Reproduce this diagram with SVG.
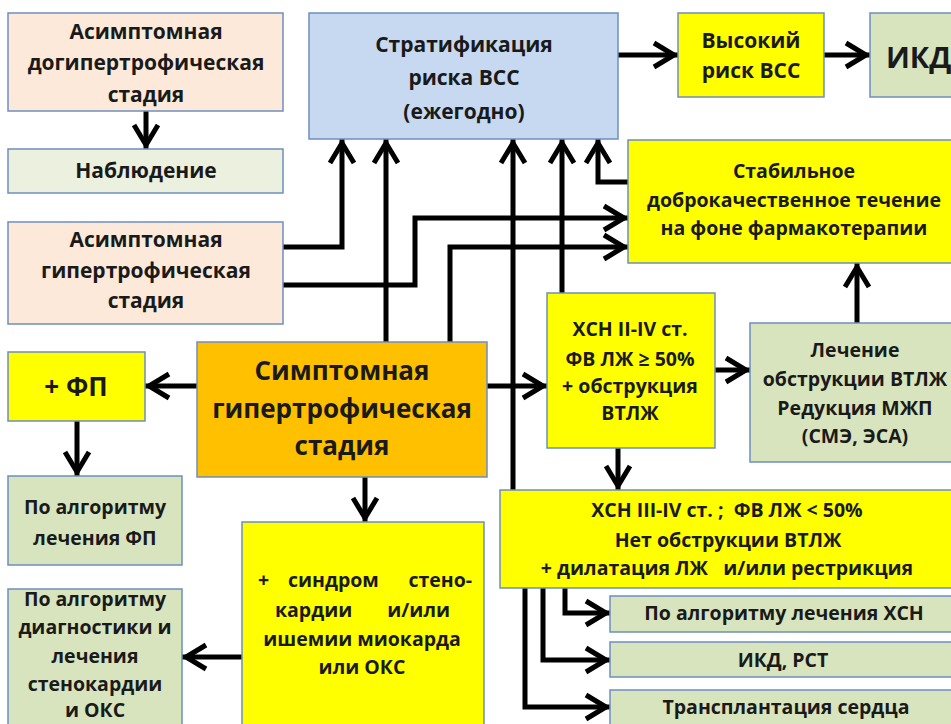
<svg xmlns="http://www.w3.org/2000/svg" width="951" height="724" viewBox="0 0 951 724">
<style>
.b{stroke:#6d8ebf;stroke-width:1.5}
.peach{fill:#fde9d9}.lg{fill:#ebf1de}.g{fill:#d7e4bd}.bl{fill:#c6d9f1}.y{fill:#ffff00}.o{fill:#ffc000}
text{font-family:"Open Sans","Liberation Sans",sans-serif;font-weight:bold;fill:#1a1a1a;text-anchor:middle;font-size:19.5px}
.l{font-size:21px}
.big{font-size:26px}
.s{text-anchor:start}.e{text-anchor:end}
.c{fill:none;stroke:#000;stroke-width:5;stroke-linejoin:miter}
</style>
<defs>
<marker id="ah" viewBox="-24 -16 30 32" markerWidth="30" markerHeight="32" refX="4" refY="0" orient="auto" markerUnits="userSpaceOnUse">
<path d="M-20,-12 L0,0 L-20,12" fill="none" stroke="#000" stroke-width="5"/>
</marker>
</defs>
<rect width="951" height="724" fill="#fff"/>

<g id="connectors">
<path class="c" d="M146,111 V149" marker-end="url(#ah)"/>
<path class="c" d="M618,55 H678" marker-end="url(#ah)"/>
<path class="c" d="M824,55 H870" marker-end="url(#ah)"/>
<path class="c" d="M283,247 H342 V139" marker-end="url(#ah)"/>
<path class="c" d="M386,342 V139" marker-end="url(#ah)"/>
<path class="c" d="M513,490 V139" marker-end="url(#ah)"/>
<path class="c" d="M562,293 V139" marker-end="url(#ah)"/>
<path class="c" d="M628,182 H598 V139" marker-end="url(#ah)"/>
<path class="c" d="M283,285 H415 V218 H628" marker-end="url(#ah)"/>
<path class="c" d="M450,342 V247 H628" marker-end="url(#ah)"/>
<path class="c" d="M197,386 H145" marker-end="url(#ah)"/>
<path class="c" d="M77,421 V476" marker-end="url(#ah)"/>
<path class="c" d="M365,477 V522" marker-end="url(#ah)"/>
<path class="c" d="M487,386 H547" marker-end="url(#ah)"/>
<path class="c" d="M715,370 H750" marker-end="url(#ah)"/>
<path class="c" d="M857,323 V263" marker-end="url(#ah)"/>
<path class="c" d="M618,448 V490" marker-end="url(#ah)"/>
<path class="c" d="M242,657 H182" marker-end="url(#ah)"/>
<path class="c" d="M565,588 V613 H610" marker-end="url(#ah)"/>
<path class="c" d="M543,588 V660 H610" marker-end="url(#ah)"/>
<path class="c" d="M525,588 V707 H610" marker-end="url(#ah)"/>
</g>

<g id="n1"><rect class="b peach" x="8" y="13" width="275" height="98"/>
<text x="146" y="39" class="l">Асимптомная</text><text x="146" y="70" class="l">догипертрофическая</text><text x="146" y="102" class="l">стадия</text></g>

<g id="n2"><rect class="b lg" x="8" y="149" width="275" height="44"/>
<text x="146" y="178" class="l">Наблюдение</text></g>

<g id="n3"><rect class="b bl" x="309" y="13" width="309" height="126"/>
<text x="464" y="52" class="l">Стратификация</text><text x="464" y="85" class="l">риска  ВСС</text><text x="464" y="119" class="l">(ежегодно)</text></g>

<g id="n4"><rect class="b y" x="678" y="13" width="146" height="84"/>
<text x="751" y="48" class="l">Высокий</text><text x="751" y="78" class="l">риск ВСС</text></g>

<g id="n5"><rect class="b g" x="870" y="13" width="90" height="84"/>
<text x="886" y="68" class="s" style="font-size:29px">ИКД</text></g>

<g id="n6"><rect class="b y" x="628" y="140" width="330" height="123"/>
<text x="794" y="178">Стабильное</text><text x="794" y="207">доброкачественное течение</text><text x="794" y="235">на фоне фармакотерапии</text></g>

<g id="n7"><rect class="b peach" x="8" y="222" width="275" height="102"/>
<text x="146" y="247" class="l">Асимптомная</text><text x="146" y="278" class="l">гипертрофическая</text><text x="146" y="308" class="l">стадия</text></g>

<g id="n8"><rect class="b y" x="8" y="352" width="137" height="69"/>
<text x="76" y="396" class="big">+ ФП</text></g>

<g id="n9"><rect class="b o" x="197" y="342" width="290" height="135"/>
<text x="342" y="380" class="big">Симптомная</text><text x="342" y="418" class="big">гипертрофическая</text><text x="342" y="455" class="big">стадия</text></g>

<g id="n10"><rect class="b y" x="547" y="293" width="168" height="155"/>
<text x="630" y="336">ХСН II-IV ст.</text><text x="630" y="366">ФВ ЛЖ ≥ 50%</text><text x="630" y="393">+ обструкция</text><text x="630" y="420">ВТЛЖ</text></g>

<g id="n11"><rect class="b g" x="750" y="323" width="210" height="139"/>
<text x="855" y="357">Лечение</text><text x="855" y="386">обструкции ВТЛЖ</text><text x="855" y="415">Редукция МЖП</text><text x="855" y="443">(СМЭ,  ЭСА)</text></g>

<g id="n12"><rect class="b g" x="8" y="476" width="174" height="89"/>
<text x="95" y="514">По алгоритму</text><text x="95" y="545">лечения ФП</text></g>

<g id="n13"><rect class="b y" x="242" y="522" width="242" height="210"/>
<text x="258" y="587" class="s">+</text><text x="288" y="587" class="s">синдром</text><text x="472" y="587" class="e">стено-</text>
<text x="275" y="617" class="s">кардии</text><text x="450" y="617" class="e">и/или</text>
<text x="362" y="646">ишемии миокарда</text><text x="362" y="674">или ОКС</text></g>

<g id="n14"><rect class="b y" x="500" y="490" width="460" height="98"/>
<text x="727" y="517" xml:space="preserve">ХСН III-IV ст. ;  ФВ ЛЖ &lt; 50%</text><text x="728" y="547">Нет обструкции ВТЛЖ</text><text x="727" y="575" xml:space="preserve">+ дилатация ЛЖ   и/или рестрикция</text></g>

<g id="n15"><rect class="b g" x="610" y="596" width="350" height="36"/>
<text x="784" y="620">По алгоритму лечения ХСН</text></g>

<g id="n16"><rect class="b g" x="610" y="642" width="350" height="35"/>
<text x="783" y="667">ИКД, РСТ</text></g>

<g id="n17"><rect class="b g" x="610" y="690" width="350" height="40"/>
<text x="786" y="714">Трансплантация сердца</text></g>

<g id="n18"><rect class="b g" x="8" y="589" width="174" height="140"/>
<text x="95" y="606">По алгоритму</text><text x="95" y="634">диагностики и</text><text x="95" y="663">лечения</text><text x="95" y="691">стенокардии</text><text x="95" y="717">и ОКС</text></g>
</svg>
